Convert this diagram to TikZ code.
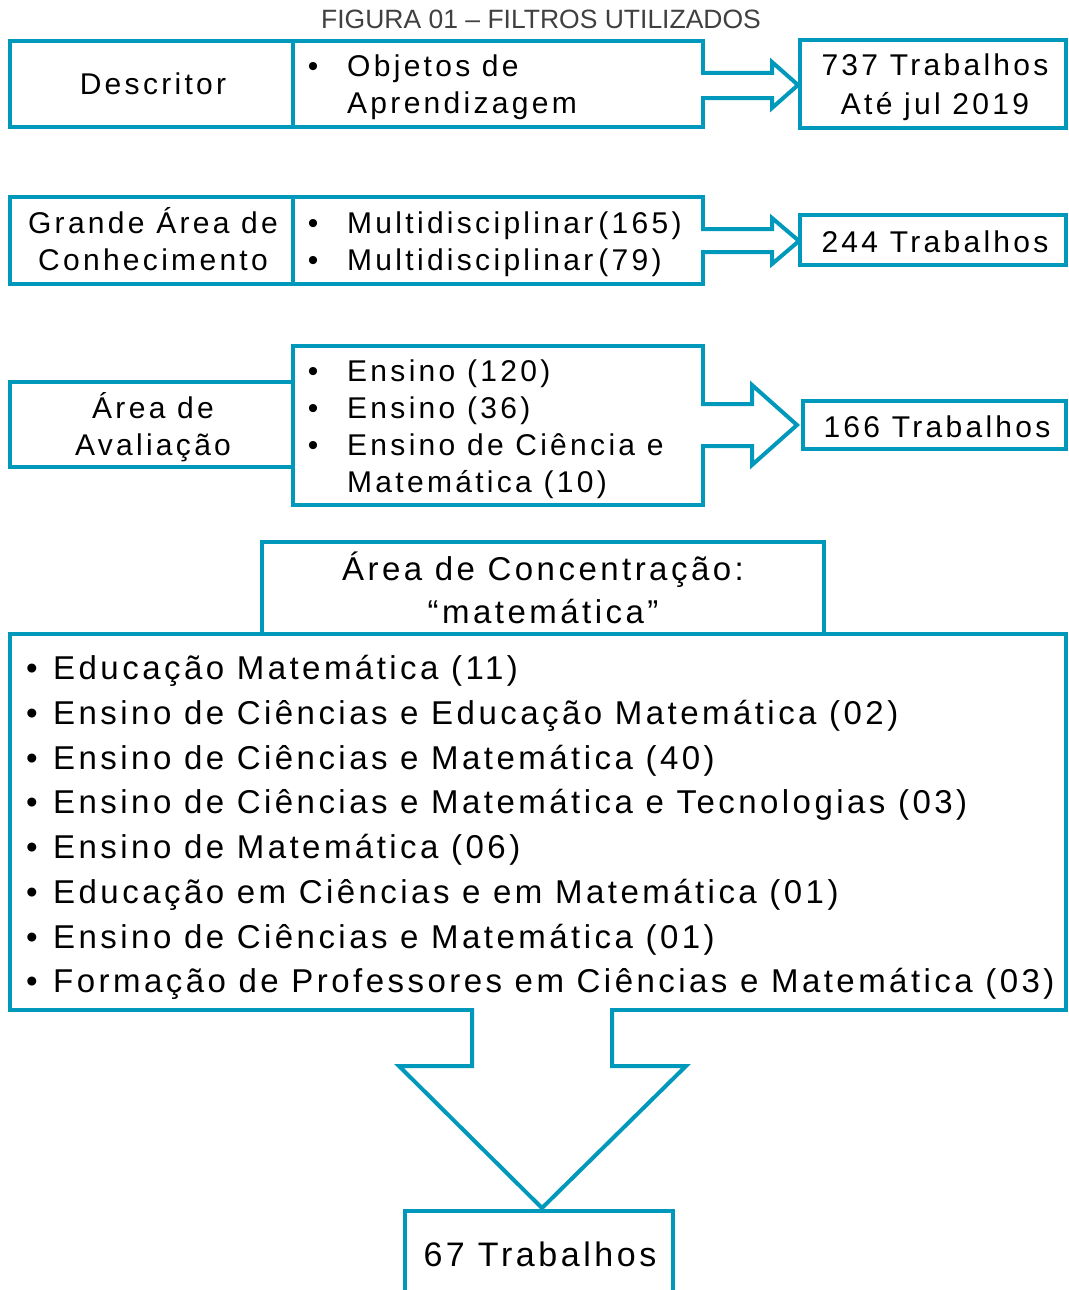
\documentclass[tikz,border=0pt]{standalone}
\usepackage{fontspec}
\setmainfont{Liberation Sans}
\newfontfamily\spaced[LetterSpace=10.5]{Liberation Sans}
\newfontfamily\spacedb[LetterSpace=11]{Liberation Sans}
\definecolor{tealb}{RGB}{0,153,187}
\definecolor{titlegray}{RGB}{64,64,64}
\begin{document}
\begin{tikzpicture}[x=1pt,y=-1pt,
  box/.style={draw=tealb,line width=4pt,line join=miter},
  arrline/.style={draw=tealb,line width=4pt,line join=miter},
  tA/.style={inner sep=0pt,font=\spacedb\fontsize{30}{32}\selectfont},
  tB/.style={inner sep=0pt,font=\spaced\fontsize{33}{35}\selectfont},
  tC/.style={inner sep=0pt,font=\spaced\fontsize{34}{36}\selectfont},
  ttl/.style={inner sep=0pt,text=titlegray,font=\fontsize{26.5}{28}\selectfont}]
\useasboundingbox (0,0) rectangle (1068,1290);
\clip (0,0) rectangle (1068,1290);
\fill[white] (0,0) rectangle (1068,1290);

% title
\node[ttl,anchor=base] (title) at (541,29) {FIGURA 01 – FILTROS UTILIZADOS};

% ---------- row 1
\draw[box] (10,41) rectangle (293,127);
\draw[box] (293,41) rectangle (703,127);
\draw[box] (800,40) rectangle (1066,128);
\fill[white] (700,73) -- (772,73) -- (772,62) -- (798,85) -- (772,108) -- (772,98) -- (700,98) -- cycle;
\draw[arrline] (701,73) -- (772,73) -- (772,62) -- (798,85) -- (772,108) -- (772,98) -- (701,98);
\node[tA,anchor=base] (d1) at (153,95) {Descritor};
\node[tA,anchor=base] (b1a) at (313,77) {•};
\node[tA,anchor=base west] (o1a) at (347,77) {Objetos de};
\node[tA,anchor=base west] (o1b) at (347,113) {Aprendizagem};
\node[tA,anchor=base] (r1a) at (935,76) {737 Trabalhos};
\node[tA,anchor=base] (r1b) at (935,114) {Até jul 2019};

% ---------- row 2
\draw[box] (10,197) rectangle (293,284);
\draw[box] (293,197) rectangle (703,284);
\draw[box] (800,215) rectangle (1066,265);
\fill[white] (700,229) -- (772,229) -- (772,218) -- (799,241) -- (772,264) -- (772,252) -- (700,252) -- cycle;
\draw[arrline] (701,229) -- (772,229) -- (772,218) -- (799,241) -- (772,264) -- (772,252) -- (701,252);
\node[tA,anchor=base] (g2a) at (153,233) {Grande Área de};
\node[tA,anchor=base] (g2b) at (153,270) {Conhecimento};
\node[tA,anchor=base] (b2a) at (313,233) {•};
\node[tA,anchor=base] (b2b) at (313,270) {•};
\node[tA,anchor=base west] (m2a) at (347,233) {Multidisciplinar\,(165)};
\node[tA,anchor=base west] (m2b) at (347,270) {Multidisciplinar\,(79)};
\node[tA,anchor=base] (r2) at (935,252) {244 Trabalhos};

% ---------- row 3
\draw[box] (10,382) rectangle (293,467);
\draw[box] (293,346) rectangle (703,505);
\draw[box] (803,401) rectangle (1066,449);
\fill[white] (700,404) -- (752,404) -- (752,385) -- (797,425) -- (752,465) -- (752,446) -- (700,446) -- cycle;
\draw[arrline] (701,404) -- (752,404) -- (752,385) -- (797,425) -- (752,465) -- (752,446) -- (701,446);
\node[tA,anchor=base] (a3a) at (153,418) {Área de};
\node[tA,anchor=base] (a3b) at (153,455) {Avaliação};
\node[tA,anchor=base] (b3a) at (313,381) {•};
\node[tA,anchor=base] (b3b) at (313,418) {•};
\node[tA,anchor=base] (b3c) at (313,455) {•};
\node[tA,anchor=base west] (e3a) at (347,381) {Ensino (120)};
\node[tA,anchor=base west] (e3b) at (347,418) {Ensino (36)};
\node[tA,anchor=base west] (e3c) at (347,455) {Ensino de Ciência e};
\node[tA,anchor=base west] (e3d) at (347,492) {Matemática (10)};
\node[tA,anchor=base] (r3) at (937,437) {166 Trabalhos};

% ---------- row 4
\draw[box] (262,542) rectangle (824,634);
\draw[box] (10,634) rectangle (1066,1010);
\node[tB,anchor=base] (h4a) at (543,580) {Área de Concentração:};
\node[tB,anchor=base] (h4b) at (543,623) {“matemática”};
\node[tB,anchor=base] (k1) at (32,679) {•};
\node[tB,anchor=base] (k2) at (32,724) {•};
\node[tB,anchor=base] (k3) at (32,769) {•};
\node[tB,anchor=base] (k4) at (32,813) {•};
\node[tB,anchor=base] (k5) at (32,858) {•};
\node[tB,anchor=base] (k6) at (32,903) {•};
\node[tB,anchor=base] (k7) at (32,948) {•};
\node[tB,anchor=base] (k8) at (32,992) {•};
\node[tB,anchor=base west] (l1) at (53,679) {Educação Matemática (11)};
\node[tB,anchor=base west] (l2) at (53,724) {Ensino de Ciências e Educação Matemática (02)};
\node[tB,anchor=base west] (l3) at (53,769) {Ensino de Ciências e Matemática (40)};
\node[tB,anchor=base west] (l4) at (53,813) {Ensino de Ciências e Matemática e Tecnologias (03)};
\node[tB,anchor=base west] (l5) at (53,858) {Ensino de Matemática (06)};
\node[tB,anchor=base west] (l6) at (53,903) {Educação em Ciências e em Matemática (01)};
\node[tB,anchor=base west] (l7) at (53,948) {Ensino de Ciências e Matemática (01)};
\node[tB,anchor=base west] (l8) at (53,992) {Formação de Professores em Ciências e Matemática (03)};

% ---------- bottom arrow and result
\draw[box] (405,1211) rectangle (673,1300);
\fill[white] (472,1007) -- (472,1066) -- (399,1066) -- (542,1208) -- (686,1066) -- (612,1066) -- (612,1007) -- cycle;
\draw[arrline] (472,1008) -- (472,1066) -- (399,1066) -- (542,1208) -- (686,1066) -- (612,1066) -- (612,1008);
\node[tC,anchor=base] (r5) at (540,1266) {67 Trabalhos};
\end{tikzpicture}
\end{document}
